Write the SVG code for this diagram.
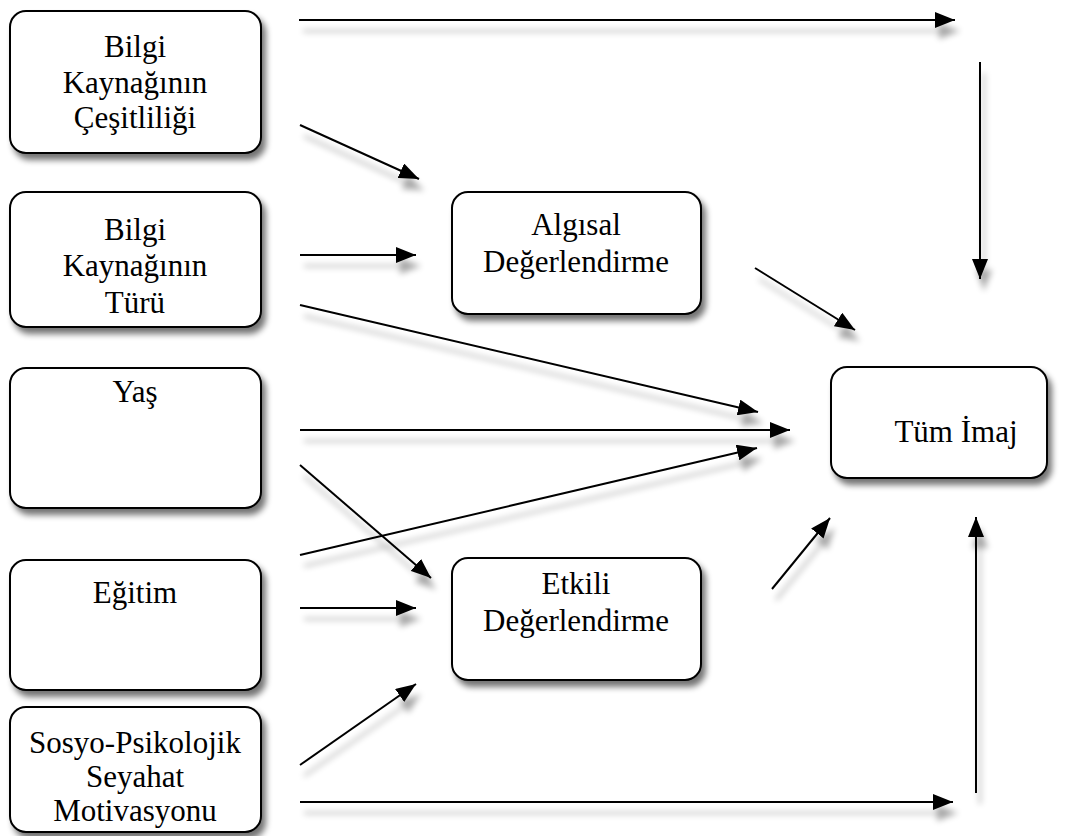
<svg xmlns="http://www.w3.org/2000/svg" width="1079" height="836" viewBox="0 0 1079 836">
<defs>
<filter id="boxShadow" x="-10%" y="-10%" width="130%" height="130%">
<feGaussianBlur in="SourceAlpha" stdDeviation="3"/>
<feOffset dx="4" dy="6" result="b"/>
<feComponentTransfer><feFuncA type="linear" slope="0.55"/></feComponentTransfer>
<feMerge><feMergeNode/><feMergeNode in="SourceGraphic"/></feMerge>
</filter>
<filter id="lineShadow" x="-20%" y="-50%" width="140%" height="300%" filterUnits="userSpaceOnUse">
<feGaussianBlur in="SourceAlpha" stdDeviation="3"/>
<feOffset dx="4" dy="11" result="b"/>
<feComponentTransfer><feFuncA type="linear" slope="0.35"/></feComponentTransfer>
<feMerge><feMergeNode/><feMergeNode in="SourceGraphic"/></feMerge>
</filter>
<marker id="ahL" viewBox="0 0 20 16" refX="20" refY="8" markerWidth="20" markerHeight="16" markerUnits="userSpaceOnUse" orient="auto">
<path d="M0,0 L20,8 L0,16 Z" fill="#000"/>
</marker>
<clipPath id="clipSosyo"><rect x="12" y="709" width="248" height="121"/></clipPath>
</defs>
<style>
.box{fill:#fff;stroke:#000;stroke-width:2;}
.t{font-family:"Liberation Serif","Times New Roman",serif;font-size:31px;fill:#000;text-anchor:middle;}
.c{stroke:#000;stroke-width:2;fill:none;marker-end:url(#ahL);}
</style>
<rect width="1079" height="836" fill="#fff"/>

<g id="connectors" filter="url(#lineShadow)">
<line class="c" x1="299" y1="20" x2="955" y2="20"/>
<line class="c" x1="980" y1="62" x2="980" y2="279"/>
<line class="c" x1="300" y1="125" x2="419" y2="179"/>
<line class="c" x1="300" y1="255" x2="416" y2="255"/>
<line class="c" x1="300" y1="305" x2="758" y2="412"/>
<line class="c" x1="755" y1="268" x2="855" y2="330"/>
<line class="c" x1="300" y1="430" x2="790" y2="430"/>
<line class="c" x1="300" y1="465" x2="431" y2="578"/>
<line class="c" x1="300" y1="555" x2="757" y2="448"/>
<line class="c" x1="300" y1="608" x2="416" y2="608"/>
<line class="c" x1="300" y1="765" x2="416" y2="684"/>
<line class="c" x1="772" y1="589" x2="830" y2="518"/>
<line class="c" x1="300" y1="802" x2="953" y2="802"/>
<line class="c" x1="976" y1="793" x2="976" y2="517"/>
</g>

<g id="n-cesitlilik">
<rect class="box" x="10" y="11" width="251" height="142" rx="16" filter="url(#boxShadow)"/>
<text class="t" x="135" y="57">Bilgi</text>
<text class="t" x="135" y="93">Kaynağının</text>
<text class="t" x="135" y="128">Çeşitliliği</text>
</g>
<g id="n-tur">
<rect class="box" x="10" y="192" width="251" height="135" rx="16" filter="url(#boxShadow)"/>
<text class="t" x="135" y="240">Bilgi</text>
<text class="t" x="135" y="276">Kaynağının</text>
<text class="t" x="135" y="313">Türü</text>
</g>
<g id="n-yas">
<rect class="box" x="10" y="368" width="251" height="140" rx="16" filter="url(#boxShadow)"/>
<text class="t" x="135" y="402">Yaş</text>
</g>
<g id="n-egitim">
<rect class="box" x="10" y="560" width="251" height="130" rx="16" filter="url(#boxShadow)"/>
<text class="t" x="135" y="603">Eğitim</text>
</g>
<g id="n-sosyo">
<rect class="box" x="10" y="707" width="251" height="125" rx="16" filter="url(#boxShadow)"/>
<g clip-path="url(#clipSosyo)">
<text class="t" x="135" y="753">Sosyo-Psikolojik</text>
<text class="t" x="135" y="787">Seyahat</text>
<text class="t" x="135" y="821">Motivasyonu</text>
</g>
</g>
<g id="n-algisal">
<rect class="box" x="452" y="192" width="249" height="122" rx="16" filter="url(#boxShadow)"/>
<text class="t" x="576" y="235">Algısal</text>
<text class="t" x="576" y="272">Değerlendirme</text>
</g>
<g id="n-etkili">
<rect class="box" x="452" y="558" width="249" height="122" rx="16" filter="url(#boxShadow)"/>
<text class="t" x="576" y="594">Etkili</text>
<text class="t" x="576" y="631">Değerlendirme</text>
</g>
<g id="n-tum">
<rect class="box" x="831" y="367" width="216" height="111" rx="16" filter="url(#boxShadow)"/>
<text class="t" x="956" y="442">Tüm İmaj</text>
</g>
</svg>
